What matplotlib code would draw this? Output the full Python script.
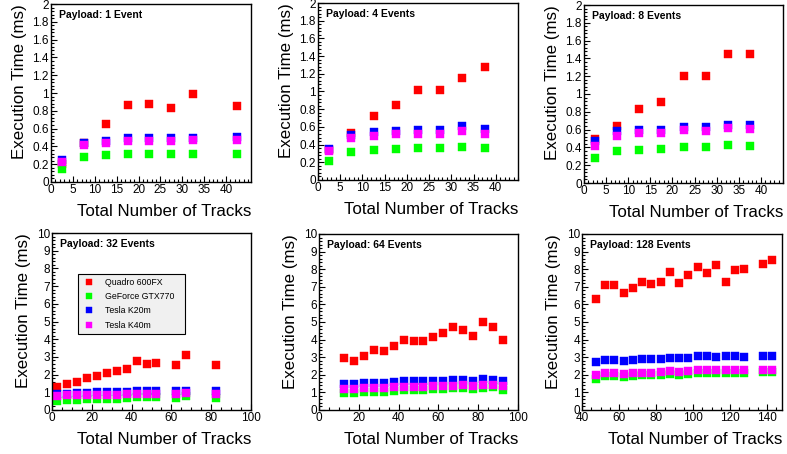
import matplotlib
matplotlib.use('Agg')
import matplotlib.pyplot as plt
from matplotlib.ticker import AutoMinorLocator, MultipleLocator

plt.rcParams['font.family'] = ['Liberation Sans', 'DejaVu Sans']

# ---- data ----
labels = ['Quadro 600FX', 'GeForce GTX770', 'Tesla K20m', 'Tesla K40m']
colors = ['#ff0000', '#00ff00', '#0000ff', '#ff00ff']

# payload 1 event
x1 = [2.5, 7.5, 12.5, 17.5, 22.5, 27.5, 32.5, 42.5]
q1 = [0.20, 0.44, 0.65, 0.86, 0.88, 0.83, 0.985, 0.85]
g1 = [0.15, 0.28, 0.30, 0.31, 0.31, 0.31, 0.32, 0.32]
k20_1 = [0.25, 0.44, 0.46, 0.49, 0.49, 0.50, 0.50, 0.51]
k40_1 = [0.22, 0.42, 0.44, 0.46, 0.46, 0.46, 0.47, 0.47]

# payload 4 events
x4 = [2.5, 7.5, 12.5, 17.5, 22.5, 27.5, 32.5, 37.5]
q4 = [0.34, 0.53, 0.72, 0.85, 1.02, 1.02, 1.15, 1.28]
g4 = [0.21, 0.315, 0.34, 0.35, 0.36, 0.36, 0.375, 0.365]
k20_4 = [0.35, 0.51, 0.54, 0.55, 0.56, 0.56, 0.61, 0.575]
k40_4 = [0.33, 0.48, 0.50, 0.515, 0.525, 0.525, 0.55, 0.525]

# payload 8 events
x8 = [2.5, 7.5, 12.5, 17.5, 22.5, 27.5, 32.5, 37.5]
q8 = [0.49, 0.64, 0.83, 0.91, 1.20, 1.20, 1.45, 1.45]
g8 = [0.28, 0.355, 0.375, 0.385, 0.405, 0.40, 0.425, 0.42]
k20_8 = [0.47, 0.58, 0.59, 0.60, 0.63, 0.63, 0.65, 0.65]
k40_8 = [0.42, 0.53, 0.56, 0.565, 0.59, 0.585, 0.615, 0.605]

# payload 32 events
x32 = [2.5, 7.5, 12.5, 17.5, 22.5, 27.5, 32.5, 37.5, 42.5, 47.5, 52.5, 62.5, 67.5, 82.5]
q32 = [1.28, 1.45, 1.60, 1.81, 1.92, 2.09, 2.23, 2.32, 2.75, 2.60, 2.64, 2.55, 3.08, 2.57]
g32 = [0.53, 0.57, 0.59, 0.62, 0.62, 0.64, 0.64, 0.66, 0.72, 0.72, 0.72, 0.70, 0.81, 0.66]
k20_32 = [0.91, 0.93, 0.96, 0.98, 0.99, 0.99, 1.01, 1.01, 1.06, 1.06, 1.06, 1.06, 1.10, 1.06]
k40_32 = [0.81, 0.83, 0.85, 0.86, 0.86, 0.87, 0.87, 0.88, 0.92, 0.92, 0.92, 0.92, 0.95, 0.92]

# payload 64 events
x64 = [12.5, 17.5, 22.5, 27.5, 32.5, 37.5, 42.5, 47.5, 52.5, 57.5, 62.5, 67.5, 72.5, 77.5, 82.5, 87.5, 92.5]
q64 = [2.95, 2.80, 3.07, 3.41, 3.35, 3.62, 4.00, 3.94, 3.94, 4.15, 4.36, 4.73, 4.55, 4.20, 5.00, 4.73, 4.00]
g64 = [0.98, 0.95, 1.00, 1.05, 1.03, 1.08, 1.12, 1.15, 1.13, 1.18, 1.20, 1.25, 1.25, 1.20, 1.25, 1.28, 1.12]
k20_64 = [1.50, 1.47, 1.52, 1.55, 1.55, 1.60, 1.63, 1.62, 1.62, 1.65, 1.65, 1.70, 1.70, 1.65, 1.78, 1.73, 1.62]
k40_64 = [1.22, 1.20, 1.25, 1.27, 1.27, 1.30, 1.32, 1.32, 1.32, 1.35, 1.35, 1.38, 1.40, 1.35, 1.42, 1.42, 1.35]

# payload 128 events
x128 = [47.5, 52.5, 57.5, 62.5, 67.5, 72.5, 77.5, 82.5, 87.5, 92.5, 97.5, 102.5, 107.5, 112.5, 117.5, 122.5, 127.5, 137.5, 142.5]
q128 = [6.28, 7.10, 7.10, 6.62, 6.95, 7.28, 7.15, 7.30, 7.82, 7.24, 7.66, 8.12, 7.76, 8.22, 7.28, 7.98, 8.00, 8.27, 8.50]
g128 = [1.78, 1.92, 1.95, 1.88, 1.95, 2.00, 2.00, 2.00, 2.05, 2.00, 2.05, 2.12, 2.08, 2.10, 2.12, 2.12, 2.12, 2.18, 2.15]
k20_128 = [2.70, 2.83, 2.82, 2.78, 2.82, 2.90, 2.92, 2.92, 2.98, 2.95, 2.98, 3.06, 3.04, 3.02, 3.06, 3.05, 3.00, 3.06, 3.05]
k40_128 = [1.99, 2.08, 2.08, 2.03, 2.08, 2.13, 2.13, 2.15, 2.20, 2.15, 2.20, 2.28, 2.25, 2.27, 2.28, 2.28, 2.27, 2.30, 2.28]

ticks_small = [0, 5, 10, 15, 20, 25, 30, 35, 40]
ticks_100 = [0, 20, 40, 60, 80, 100]
ticks_128 = [40, 60, 80, 100, 120, 140]

panels = [
    ('Payload: 1 Event', x1, [q1, g1, k20_1, k40_1], (0, 45.7), (0, 2), ticks_small, 0.2),
    ('Payload: 4 Events', x4, [q4, g4, k20_4, k40_4], (0, 45), (0, 2), ticks_small, 0.2),
    ('Payload: 8 Events', x8, [q8, g8, k20_8, k40_8], (0, 45), (0, 2), ticks_small, 0.2),
    ('Payload: 32 Events', x32, [q32, g32, k20_32, k40_32], (0, 100), (0, 10), ticks_100, 1),
    ('Payload: 64 Events', x64, [q64, g64, k20_64, k40_64], (0, 100), (0, 10), ticks_100, 1),
    ('Payload: 128 Events', x128, [q128, g128, k20_128, k40_128], (40, 148), (0, 10), ticks_128, 1),
]

# axes boxes in pixels: left, top, right, bottom
boxes = [(51, 4, 251, 182), (318, 3, 518, 180), (584, 5, 783, 183),
         (52, 233, 251, 410), (319, 234, 518, 410), (582, 234, 782, 410)]

W, H = 787, 454
fig = plt.figure(figsize=(W / 100, H / 100), dpi=100)

for (title, xs, ys, xl, yl, xt, ymaj), (l, t, r, b) in zip(panels, boxes):
    ax = fig.add_axes([l / W, 1 - b / H, (r - l) / W, (b - t) / H])
    for y, c, lab in zip(ys, colors, labels):
        ax.plot(xs, y, 's', color=c, ms=5.6, mec=c, mew=0.3, label=lab)
    ax.set_xticks(xt)
    ax.set_xlim(*xl)
    ax.set_ylim(*yl)
    ax.yaxis.set_major_locator(MultipleLocator(ymaj))
    ax.xaxis.set_minor_locator(AutoMinorLocator(5 if xt[1] - xt[0] == 5 else 4))
    ax.yaxis.set_minor_locator(AutoMinorLocator(5))
    ax.tick_params(which='both', direction='in', top=False, right=False,
                   labelsize=8.5, width=0.8, pad=1.5)
    ax.tick_params(which='major', length=4.5)
    ax.tick_params(which='minor', length=2.5)
    ax.yaxis.set_major_formatter(plt.FuncFormatter(lambda v, p: '%g' % round(v, 2)))
    for s in ax.spines.values():
        s.set_linewidth(1.0)
    ax.set_xlabel('Total Number of Tracks', fontsize=12.2, loc='right', labelpad=6)
    ax.set_ylabel('Execution Time (ms)', fontsize=12.2, loc='top', labelpad=4)
    ax.text(0.04, 0.965, title, transform=ax.transAxes, fontsize=7.5, fontweight='bold',
            va='top', ha='left')
    if title == 'Payload: 32 Events':
        leg = ax.legend(loc='upper left', mode='expand',
                        bbox_to_anchor=(78 / W, 1 - 336 / H, 107 / W, 62 / H),
                        bbox_transform=fig.transFigure, fontsize=6.3, fancybox=False,
                        frameon=True, edgecolor='black', facecolor='#f0f0f0',
                        framealpha=1, handletextpad=1.0, labelspacing=0.6,
                        borderpad=0.45, handlelength=1.6, markerscale=0.85,
                        borderaxespad=0)
        leg.get_frame().set_linewidth(0.8)

fig.savefig('out.png', dpi=100)
